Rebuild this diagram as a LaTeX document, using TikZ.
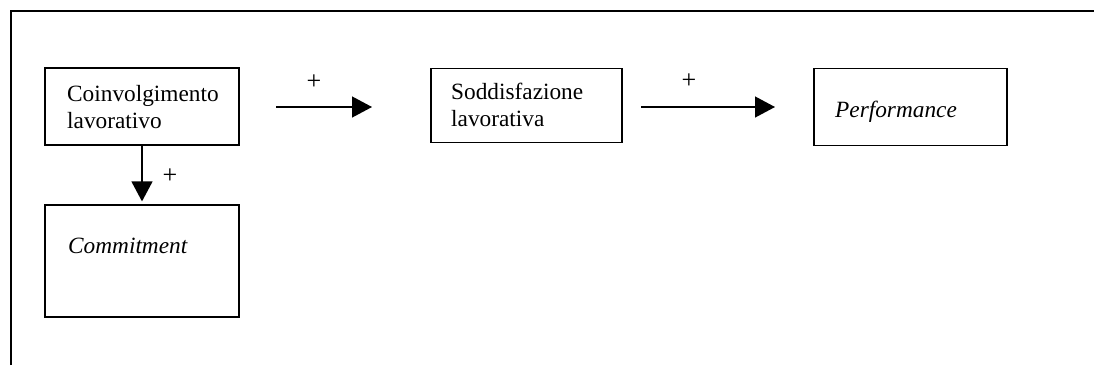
\documentclass[tikz,border=0pt]{standalone}
\usepackage{fontspec}
\setmainfont{Liberation Serif}
\usetikzlibrary{arrows.meta}
\begin{document}
\begin{tikzpicture}[x=1pt,y=-1pt,
  box/.style={draw,line width=1.2pt,inner sep=0pt},
  lbl/.style={anchor=base west,inner sep=0pt,font=\fontsize{23.3}{27.3}\selectfont,align=left},
  plus/.style={inner sep=0pt,font=\fontsize{26}{30}\selectfont},
  conn/.style={line width=1.3pt,-{Triangle[length=20pt,width=21pt]}}]
\useasboundingbox (0,0) rectangle (1094,365);
\draw[line width=1.5pt] (11,365) -- (11,11) -- (1094,11);
% boxes
\node[box,minimum width=194pt,minimum height=77pt] (A) at (142,106.5) {};
\node[box,minimum width=191pt,minimum height=74pt] (B) at (526.5,105.5) {};
\node[box,minimum width=193pt,minimum height=77pt] (C) at (910.5,107) {};
\node[box,minimum width=194pt,minimum height=112pt] (D) at (142,261) {};
% texts (base anchor = baseline of last line)
\node[lbl] (tA) at (67,128.3) {Coinvolgimento\\lavorativo};
\node[lbl] (tB) at (451,126.7) {Soddisfazione\\lavorativa};
\node[lbl] (tC) at (835,117) {\itshape Performance};
\node[lbl] (tD) at (68,253) {\itshape Commitment};
% connectors
\coordinate (a1) at (276,107);
\coordinate (a2) at (372,107);
\coordinate (b1) at (641,107);
\coordinate (b2) at (775,107);
\draw[conn] (a1) -- (a2);
\draw[conn] (b1) -- (b2);
\draw[conn,shorten >=3pt] (A.south) -- (D.north);
% plus signs
\node[plus] (p1) at (314,82) {+};
\node[plus] (p2) at (689,81) {+};
\node[plus] (p3) at (170,176) {+};
\end{tikzpicture}
\end{document}
